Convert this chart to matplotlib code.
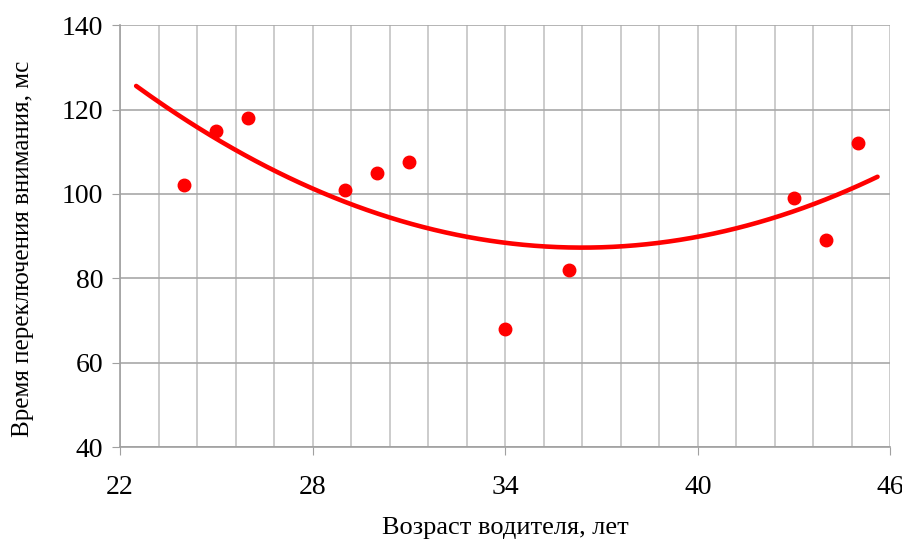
import numpy as np
import matplotlib.pyplot as plt

plt.rcParams['font.family'] = ['Liberation Serif', 'DejaVu Serif']

# driver age, years / attention switch time, ms
age = [24, 25, 26, 29, 30, 31, 34, 36, 43, 44, 45]
switch_time = [102, 115, 118, 101, 105, 107.5, 68, 82, 99, 89, 112]

x_ticks = [22, 28, 34, 40, 46]
y_ticks = [40, 60, 80, 100, 120, 140]

# 2nd order polynomial trendline
coef = np.polyfit(age, switch_time, 2)
xt = np.linspace(22.5, 45.6, 200)
yt = np.polyval(coef, xt)

fig = plt.figure(figsize=(9.03, 5.46), dpi=100)
ax = fig.add_axes([0.133, 0.181, 0.853, 0.773])

ax.plot(xt, yt, color='#ff0000', lw=3.3, solid_capstyle='round', zorder=3)
ax.plot(age, switch_time, 'o', color='#ff0000', ms=9, zorder=4)

ax.set_xlim(22, 46)
ax.set_ylim(40, 140)
ax.set_xticks(x_ticks)
ax.set_xticks(np.arange(22, 46.01, 1.2), minor=True)
ax.set_yticks(y_ticks)
ax.grid(which='both', axis='x', color='#c4c4c4', lw=1.2)
ax.grid(which='major', axis='y', color='#a8a8a8', lw=1.2)
ax.set_axisbelow(True)

for s in ['top', 'right']:
    ax.spines[s].set_visible(False)
for s in ['left', 'bottom']:
    ax.spines[s].set_color('#a0a0a0')
    ax.spines[s].set_linewidth(1.2)
ax.tick_params(which='major', length=6, color='#a0a0a0', labelsize=20, pad=6)
ax.tick_params(which='minor', length=0)
ax.tick_params(axis='x', pad=14)

ax.set_xlabel('Возраст водителя, лет', fontsize=19)
ax.xaxis.set_label_coords(0.5, -0.165)
ax.set_ylabel('Время переключения внимания, мс', fontsize=18)
ax.yaxis.set_label_coords(-0.112, 0.47)

plt.savefig('out.png', dpi=100)
